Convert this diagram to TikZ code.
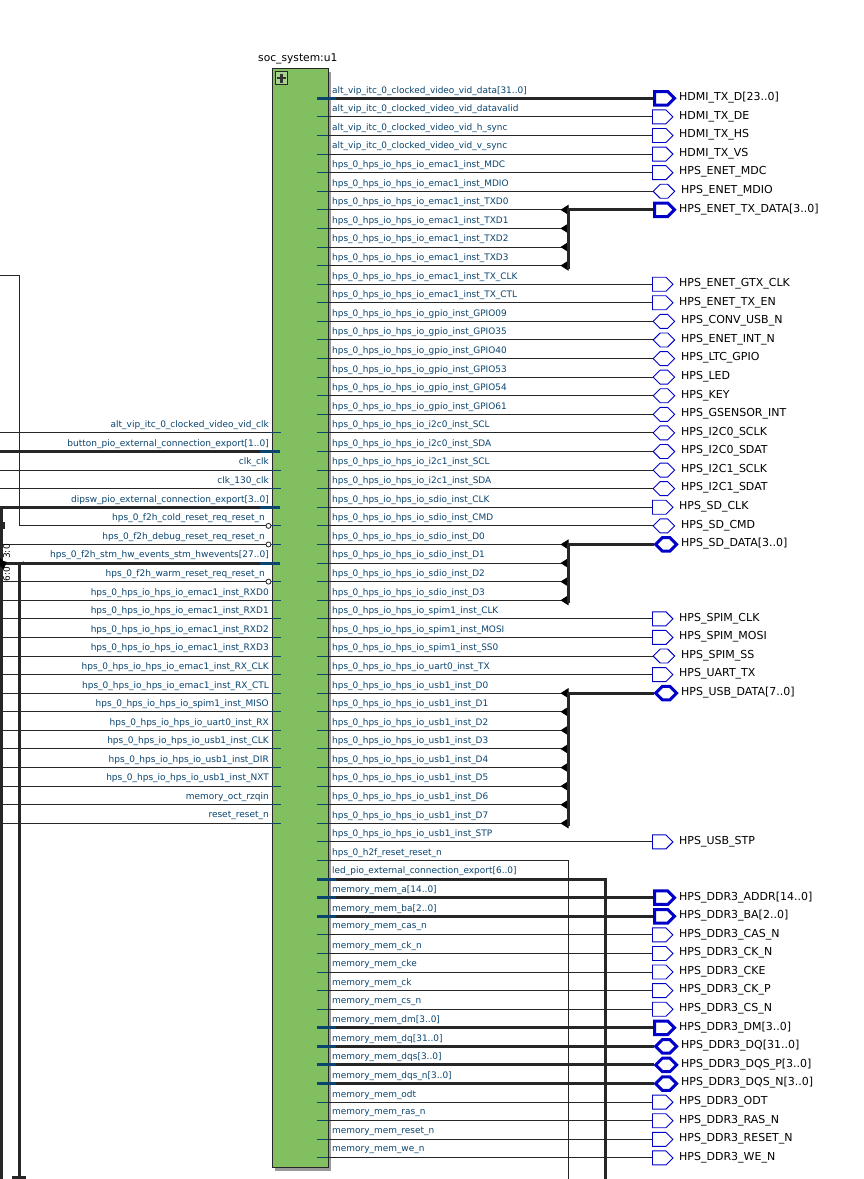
\documentclass[tikz,border=0pt]{standalone}
\usepackage{fontspec}
\setmainfont{DejaVu Sans}
\usetikzlibrary{arrows.meta,shapes.symbols}
\definecolor{portblue}{HTML}{0A4570}
\definecolor{pinblue}{HTML}{0000C8}
\definecolor{wiredark}{HTML}{262626}
\definecolor{blockgreen}{HTML}{82BF60}
\catcode`\_=12
\newcommand{\rowy}[1]{98.3+18.59*#1}
\begin{document}
\begin{tikzpicture}[x=1pt,y=-1pt,
    wire/.style={draw=wiredark,line width=1pt},
    buswire/.style={draw=wiredark,line width=3pt},
    stub/.style={draw=portblue,line width=1pt},
    busstub/.style={draw=portblue,line width=3pt},
    portl/.style={text=portblue,font=\fontsize{9}{11}\selectfont,inner sep=0pt,anchor=east},
    portr/.style={text=portblue,font=\fontsize{8.95}{11}\selectfont,inner sep=0pt,anchor=west},
    pinlabel/.style={text=black,font=\fontsize{11}{13}\selectfont,inner sep=0pt,anchor=west},
    pinout/.style={shape=signal,signal to=east,draw=pinblue,line width=0.9pt,fill=white,
        minimum width=20.5pt,minimum height=14pt,inner sep=0pt,anchor=west},
    pinbi/.style={shape=signal,signal to=east and west,draw=pinblue,line width=0.9pt,fill=white,
        minimum width=21.5pt,minimum height=14pt,inner sep=0pt,anchor=west},
    pinoutbus/.style={pinout,line width=3pt,minimum width=20pt,minimum height=13.5pt},
    pinbibus/.style={pinbi,line width=3pt,minimum width=21pt,minimum height=13.5pt},
    bubble/.style={shape=circle,draw=wiredark,fill=white,line width=0.8pt,minimum size=5pt,inner sep=0pt},
    taptip/.style={draw=black,-{Triangle[length=8pt,width=10pt]},line width=1pt}]

    \useasboundingbox (0,0) rectangle (864,1179);
    \fill[white] (0,0) rectangle (864,1179);

    % block
    \fill[black!40] (275,72) rectangle (331,1171);
    \node[draw=wiredark,fill=blockgreen,line width=1pt,minimum width=56pt,minimum height=1099pt,inner sep=0pt,anchor=north west] (u1) at (272,68) {};
    \node[inner sep=0pt,anchor=west,font=\fontsize{10.7}{13}\selectfont] (u1name) at (258,59) {soc_system:u1};
    \node[draw=wiredark,fill=blockgreen!70!white,line width=1pt,minimum size=12.5pt,inner sep=0pt] (plusbox) at (281.5,78) {};
    \node[fill=black!80,minimum width=9pt,minimum height=2.6pt,inner sep=0pt] (plush) at (plusbox) {};
    \node[fill=black!80,minimum width=2.6pt,minimum height=9pt,inner sep=0pt] (plusv) at (plusbox) {};

    % right side port labels
    \foreach \i/\txt in {0/alt_vip_itc_0_clocked_video_vid_data[31..0],1/alt_vip_itc_0_clocked_video_vid_datavalid,
        2/alt_vip_itc_0_clocked_video_vid_h_sync,3/alt_vip_itc_0_clocked_video_vid_v_sync,
        4/hps_0_hps_io_hps_io_emac1_inst_MDC,5/hps_0_hps_io_hps_io_emac1_inst_MDIO,
        6/hps_0_hps_io_hps_io_emac1_inst_TXD0,7/hps_0_hps_io_hps_io_emac1_inst_TXD1,
        8/hps_0_hps_io_hps_io_emac1_inst_TXD2,9/hps_0_hps_io_hps_io_emac1_inst_TXD3,
        10/hps_0_hps_io_hps_io_emac1_inst_TX_CLK,11/hps_0_hps_io_hps_io_emac1_inst_TX_CTL,
        12/hps_0_hps_io_hps_io_gpio_inst_GPIO09,13/hps_0_hps_io_hps_io_gpio_inst_GPIO35,
        14/hps_0_hps_io_hps_io_gpio_inst_GPIO40,15/hps_0_hps_io_hps_io_gpio_inst_GPIO53,
        16/hps_0_hps_io_hps_io_gpio_inst_GPIO54,17/hps_0_hps_io_hps_io_gpio_inst_GPIO61,
        18/hps_0_hps_io_hps_io_i2c0_inst_SCL,19/hps_0_hps_io_hps_io_i2c0_inst_SDA,
        20/hps_0_hps_io_hps_io_i2c1_inst_SCL,21/hps_0_hps_io_hps_io_i2c1_inst_SDA,
        22/hps_0_hps_io_hps_io_sdio_inst_CLK,23/hps_0_hps_io_hps_io_sdio_inst_CMD,
        24/hps_0_hps_io_hps_io_sdio_inst_D0,25/hps_0_hps_io_hps_io_sdio_inst_D1,
        26/hps_0_hps_io_hps_io_sdio_inst_D2,27/hps_0_hps_io_hps_io_sdio_inst_D3,
        28/hps_0_hps_io_hps_io_spim1_inst_CLK,29/hps_0_hps_io_hps_io_spim1_inst_MOSI,
        30/hps_0_hps_io_hps_io_spim1_inst_SS0,31/hps_0_hps_io_hps_io_uart0_inst_TX,
        32/hps_0_hps_io_hps_io_usb1_inst_D0,33/hps_0_hps_io_hps_io_usb1_inst_D1,
        34/hps_0_hps_io_hps_io_usb1_inst_D2,35/hps_0_hps_io_hps_io_usb1_inst_D3,
        36/hps_0_hps_io_hps_io_usb1_inst_D4,37/hps_0_hps_io_hps_io_usb1_inst_D5,
        38/hps_0_hps_io_hps_io_usb1_inst_D6,39/hps_0_hps_io_hps_io_usb1_inst_D7,
        40/hps_0_hps_io_hps_io_usb1_inst_STP,41/hps_0_h2f_reset_reset_n,
        42/led_pio_external_connection_export[6..0],43/memory_mem_a[14..0],44/memory_mem_ba[2..0],
        45/memory_mem_cas_n,46/memory_mem_ck_n,47/memory_mem_cke,48/memory_mem_ck,49/memory_mem_cs_n,
        50/memory_mem_dm[3..0],51/memory_mem_dq[31..0],52/memory_mem_dqs[3..0],53/memory_mem_dqs_n[3..0],
        54/memory_mem_odt,55/memory_mem_ras_n,56/memory_mem_reset_n,57/memory_mem_we_n}
    {
        \node[portr] (rl\i) at (332,{\rowy{\i}-7.5}) {\txt};
        \coordinate (rin\i) at (317,{\rowy{\i}});
        \coordinate (rout\i) at (328,{\rowy{\i}});
    }

    % output pins, thin
    \foreach \i/\txt in {1/HDMI_TX_DE,2/HDMI_TX_HS,3/HDMI_TX_VS,4/HPS_ENET_MDC,10/HPS_ENET_GTX_CLK,11/HPS_ENET_TX_EN,
        22/HPS_SD_CLK,28/HPS_SPIM_CLK,29/HPS_SPIM_MOSI,31/HPS_UART_TX,40/HPS_USB_STP,
        45/HPS_DDR3_CAS_N,46/HPS_DDR3_CK_N,47/HPS_DDR3_CKE,48/HPS_DDR3_CK_P,49/HPS_DDR3_CS_N,
        54/HPS_DDR3_ODT,55/HPS_DDR3_RAS_N,56/HPS_DDR3_RESET_N,57/HPS_DDR3_WE_N}
    {
        \node[pinout] (pin\i) at (652,{\rowy{\i}}) {};
        \node[pinlabel] (pt\i) at (679,{\rowy{\i}-0.5}) {\txt};
        \draw[stub] (rin\i) -- (rout\i);
        \draw[wire] (rout\i) -- (pin\i.west);
    }

    % bidir pins, thin
    \foreach \i/\txt in {5/HPS_ENET_MDIO,12/HPS_CONV_USB_N,13/HPS_ENET_INT_N,14/HPS_LTC_GPIO,15/HPS_LED,16/HPS_KEY,
        17/HPS_GSENSOR_INT,18/HPS_I2C0_SCLK,19/HPS_I2C0_SDAT,20/HPS_I2C1_SCLK,21/HPS_I2C1_SDAT,23/HPS_SD_CMD,30/HPS_SPIM_SS}
    {
        \node[pinbi] (pin\i) at (652.5,{\rowy{\i}}) {};
        \node[pinlabel] (pt\i) at (681,{\rowy{\i}-0.5}) {\txt};
        \draw[stub] (rin\i) -- (rout\i);
        \draw[wire] (rout\i) -- (pin\i.west);
    }

    % bus pins straight from the block
    \foreach \i/\txt in {0/HDMI_TX_D[23..0],43/HPS_DDR3_ADDR[14..0],44/HPS_DDR3_BA[2..0],50/HPS_DDR3_DM[3..0]}
    {
        \node[pinoutbus] (pin\i) at (653,{\rowy{\i}}) {};
        \node[pinlabel] (pt\i) at (679,{\rowy{\i}-0.5}) {\txt};
        \coordinate (rbus\i) at (336,{\rowy{\i}});
        \draw[buswire] (rbus\i) -- (pin\i.west);
        \draw[busstub] (rin\i) -- (rbus\i);
    }
    \foreach \i/\txt in {51/HPS_DDR3_DQ[31..0],52/HPS_DDR3_DQS_P[3..0],53/HPS_DDR3_DQS_N[3..0]}
    {
        \node[pinbibus] (pin\i) at (653.5,{\rowy{\i}}) {};
        \node[pinlabel] (pt\i) at (681,{\rowy{\i}-0.5}) {\txt};
        \coordinate (rbus\i) at (336,{\rowy{\i}});
        \draw[buswire] (rbus\i) -- (pin\i.west);
        \draw[busstub] (rin\i) -- (rbus\i);
    }

    % bus pins with a tap per bit
    \node[pinoutbus] (pin6) at (653,{\rowy{6}}) {};
    \node[pinlabel] (pt6) at (679,{\rowy{6}-0.5}) {HPS_ENET_TX_DATA[3..0]};
    \node[pinbibus] (pin24) at (653.5,{\rowy{24}}) {};
    \node[pinlabel] (pt24) at (681,{\rowy{24}-0.5}) {HPS_SD_DATA[3..0]};
    \node[pinbibus] (pin32) at (653.5,{\rowy{32}}) {};
    \node[pinlabel] (pt32) at (681,{\rowy{32}-0.5}) {HPS_USB_DATA[7..0]};
    \foreach \i in {6,7,8,9,24,25,26,27,32,33,34,35,36,37,38,39}
    {
        \coordinate (tap\i) at (568.5,{\rowy{\i}});
        \coordinate (tip\i) at (560.5,{\rowy{\i}});
        \draw[stub] (rin\i) -- (rout\i);
        \draw[wire] (rout\i) -- (tap\i);
        \draw[taptip] (tap\i) -- (tip\i);
    }
    \foreach \a/\b in {6/9,24/27,32/39}
    {
        \coordinate (tapend\b) at (568.5,{\rowy{\b}+3});
        \draw[buswire] (pin\a.west) -- (tap\a) -- (tapend\b);
    }

    % the two that run off the bottom
    \coordinate (rsdown) at (568.5,1179);
    \coordinate (leddown) at (605.5,1179);
    \coordinate (ledbus) at (336,{\rowy{42}});
    \draw[stub] (rin41) -- (rout41);
    \draw[wire] (rout41) -| (rsdown);
    \draw[buswire] (ledbus) -| (leddown);
    \draw[busstub] (rin42) -- (ledbus);

    % left side ports
    \foreach \j/\i/\txt in {0/18/alt_vip_itc_0_clocked_video_vid_clk,2/20/clk_clk,3/21/clk_130_clk,
        9/27/hps_0_hps_io_hps_io_emac1_inst_RXD0,10/28/hps_0_hps_io_hps_io_emac1_inst_RXD1,
        11/29/hps_0_hps_io_hps_io_emac1_inst_RXD2,12/30/hps_0_hps_io_hps_io_emac1_inst_RXD3,
        13/31/hps_0_hps_io_hps_io_emac1_inst_RX_CLK,14/32/hps_0_hps_io_hps_io_emac1_inst_RX_CTL,
        15/33/hps_0_hps_io_hps_io_spim1_inst_MISO,16/34/hps_0_hps_io_hps_io_uart0_inst_RX,
        17/35/hps_0_hps_io_hps_io_usb1_inst_CLK,18/36/hps_0_hps_io_hps_io_usb1_inst_DIR,
        19/37/hps_0_hps_io_hps_io_usb1_inst_NXT,20/38/memory_oct_rzqin,21/39/reset_reset_n}
    {
        \node[portl] (ll\j) at (269,{\rowy{\i}-7.5}) {\txt};
        \coordinate (lfree\j) at (0,{\rowy{\i}});
        \coordinate (lend\j) at (270,{\rowy{\i}});
        \coordinate (lin\j) at (281,{\rowy{\i}});
        \draw[wire] (lfree\j) -- (lend\j);
        \draw[stub] (lend\j) -- (lin\j);
    }
    \foreach \j/\i/\txt in {1/19/button_pio_external_connection_export[1..0],4/22/dipsw_pio_external_connection_export[3..0],
        7/25/hps_0_f2h_stm_hw_events_stm_hwevents[27..0]}
    {
        \node[portl] (ll\j) at (269,{\rowy{\i}-7.5}) {\txt};
        \coordinate (lfree\j) at (0,{\rowy{\i}});
        \coordinate (lend\j) at (260,{\rowy{\i}});
        \coordinate (lin\j) at (280,{\rowy{\i}});
        \draw[buswire] (lfree\j) -- (lend\j);
        \draw[busstub] (lend\j) -- (lin\j);
    }
    \foreach \j/\i/\txt in {5/23/hps_0_f2h_cold_reset_req_reset_n,6/24/hps_0_f2h_debug_reset_req_reset_n,
        8/26/hps_0_f2h_warm_reset_req_reset_n}
    {
        \node[portl] (ll\j) at (265,{\rowy{\i}-7.5}) {\txt};
        \node[bubble] (bub\j) at (268.5,{\rowy{\i}}) {};
        \coordinate (lin\j) at (281,{\rowy{\i}});
        \draw[stub] (bub\j.east) -- (lin\j);
    }
    \coordinate (lfree6) at (0,{\rowy{24}});
    \draw[wire] (lfree6) -- (bub6.west);
    \coordinate (lfree8) at (0,{\rowy{26}});
    \draw[wire] (lfree8) -- (bub8.west);

    % left end of the sheet
    \coordinate (coldtop) at (0,275);
    \coordinate (coldturn) at (19.5,275);
    \draw[wire] (coldtop) -- (coldturn) |- (bub5.west);
    \coordinate (dipswtop) at (1.5,{\rowy{22}});
    \coordinate (dipswdown) at (1.5,1179);
    \draw[buswire] (dipswtop) -- (dipswdown);
    \coordinate (stmjoin) at (19.5,{\rowy{25}+2});
    \coordinate (stmdown) at (19.5,1178);
    \coordinate (stmentry) at (24,{\rowy{25}-1});
    \draw[buswire] (stmjoin) -- (stmdown);
    \draw[wire,line width=1.5pt] (stmjoin) -- (stmentry);
    \fill[wiredark] (12,1176) rectangle (26,1179);
    \fill[wiredark] (0,522) rectangle (5,529);
    \fill[black] (0,558) -- (3.5,561) -- (7,562) -- (3.5,569) -- (0,566) -- cycle;
    \node[rotate=90,inner sep=0pt,font=\fontsize{9}{11}\selectfont] (ripa) at (6.5,551.5) {3:0};
    \node[rotate=90,inner sep=0pt,font=\fontsize{9}{11}\selectfont] (ripb) at (6.5,574) {6:0};
\end{tikzpicture}
\end{document}
